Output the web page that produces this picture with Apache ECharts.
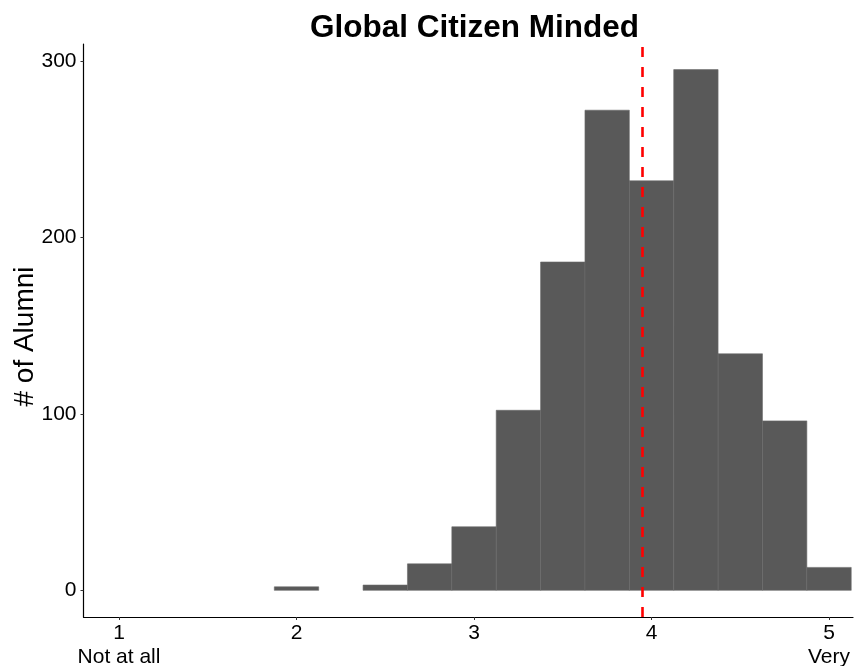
<!DOCTYPE html>
<html>
<head>
<meta charset="utf-8">
<script src="https://cdn.jsdelivr.net/npm/echarts@6/dist/echarts.min.js"></script>
<style>
html,body{margin:0;padding:0;background:#fff;}
#chart{width:855px;height:666px;}
</style>
</head>
<body>
<div id="chart"></div>
<script>
// ---- data ----
const chartTitle = 'Global Citizen Minded';
const yAxisTitle = '# of Alumni';
const binCenters = [2.0, 2.25, 2.5, 2.75, 3.0, 3.25, 3.5, 3.75, 4.0, 4.25, 4.5, 4.75, 5.0];
const binCounts  = [2, 0, 3, 15, 36, 102, 186, 272, 232, 295, 134, 96, 13];
const binWidth = 0.25;
const meanValue = 3.95;
const xTicks = [1, 2, 3, 4, 5];
const xTickLabels = {1: '1\nNot at all', 2: '2', 3: '3', 4: '4', 5: '5\nVery'};
const yTicks = [0, 100, 200, 300];

const FONT = '"Liberation Sans", Arial, Helvetica, sans-serif';
const seriesData = binCenters.map((c, i) => [c, binCounts[i]]);

const chart = echarts.init(document.getElementById('chart'), null, {renderer: 'canvas'});
chart.setOption({
  backgroundColor: '#ffffff',
  animation: false,
  title: {
    text: chartTitle,
    left: 305,
    top: 7,
    textStyle: {fontFamily: FONT, fontSize: 31.5, fontWeight: 'bold', color: '#000'}
  },
  grid: {left: 83.5, right: 2, top: 44, bottom: 49, containLabel: false, outerBoundsMode: 'none'},
  xAxis: {
    type: 'value',
    min: 0.8,
    max: 5.135,
    axisLine: {show: true, onZero: false, lineStyle: {color: '#000', width: 1.2}},
    axisTick: {show: true, length: 3, customValues: xTicks, lineStyle: {color: '#333', width: 1}},
    splitLine: {show: false},
    axisLabel: {
      customValues: xTicks,
      margin: 4,
      fontFamily: FONT, fontSize: 21, color: '#000', lineHeight: 24,
      formatter: v => xTickLabels[Math.round(v)] || ''
    }
  },
  yAxis: {
    type: 'value',
    min: -15.1,
    max: 309.5,
    name: yAxisTitle,
    nameLocation: 'middle',
    nameGap: 44,
    nameMoveOverlap: false,
    nameTextStyle: {fontFamily: FONT, fontSize: 28, color: '#000', padding: [0, 12, 0, 0]},
    axisLine: {show: true, onZero: false, lineStyle: {color: '#000', width: 1.2}},
    axisTick: {show: true, length: 3, customValues: yTicks, lineStyle: {color: '#333', width: 1}},
    splitLine: {show: false},
    axisLabel: {
      customValues: yTicks,
      margin: 7,
      fontFamily: FONT, fontSize: 21, color: '#000'
    }
  },
  series: [{
    type: 'custom',
    data: seriesData,
    clip: true,
    renderItem: function (params, api) {
      const c = api.value(0), v = api.value(1);
      if (!v) return null;
      const p0 = api.coord([c - binWidth / 2, v]);
      const p1 = api.coord([c + binWidth / 2, 0]);
      return {
        type: 'rect',
        shape: {x: p0[0], y: p0[1], width: p1[0] - p0[0], height: p1[1] - p0[1]},
        style: {fill: '#595959', stroke: '#6a6a6a', lineWidth: 0.6}
      };
    },
    markLine: {
      silent: true,
      symbol: ['none', 'none'],
      label: {show: false},
      emphasis: {disabled: true},
      lineStyle: {color: '#ff0000', type: [10, 10], width: 2.6, opacity: 1},
      data: [{xAxis: meanValue}]
    }
  }]
});
</script>
</body>
</html>
